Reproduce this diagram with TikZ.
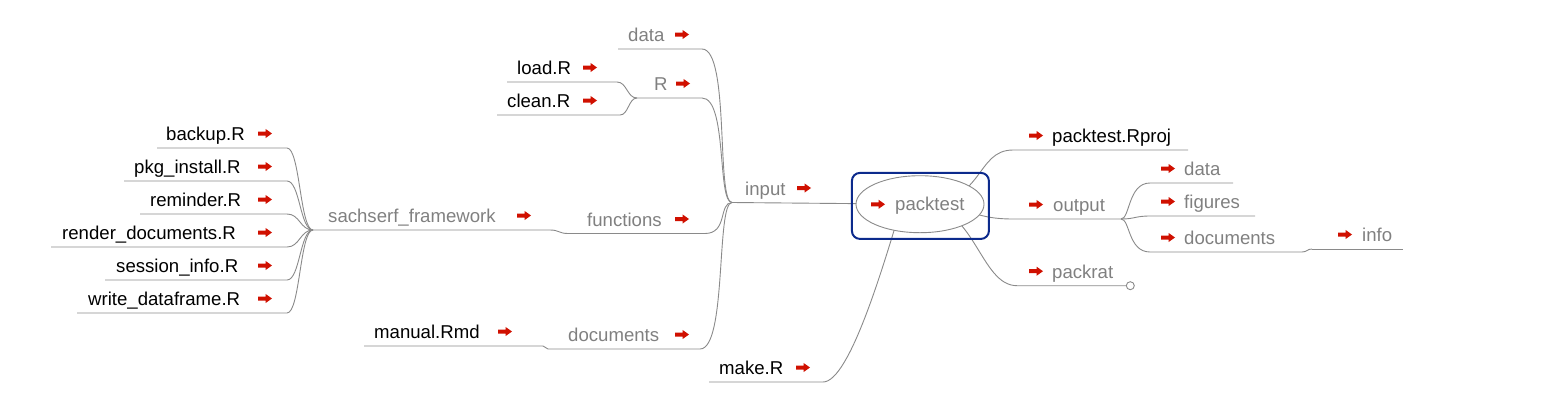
\documentclass[tikz,border=0pt]{standalone}
\usepackage{fontspec}
\setmainfont{Liberation Sans}
\usetikzlibrary{backgrounds,shapes.geometric}
\definecolor{edgegray}{HTML}{8A8A8A}
\definecolor{txtgray}{HTML}{808080}
\definecolor{arrowred}{HTML}{D01000}
\definecolor{boxblue}{HTML}{0C2A8C}
\newcommand\lbfont{\fontsize{18.6}{22}\selectfont}
\tikzset{
  lbl/.style={anchor=base west, inner sep=0pt, font=\lbfont},
  filelbl/.style={lbl, text=black},
  dirlbl/.style={lbl, text=txtgray},
  edge/.style={draw=edgegray, line width=0.9pt},
  redarrow/.pic={\fill[arrowred] (-7,-2) -- (0.5,-2) -- (0.5,-4.6) -- (7,0) -- (0.5,4.6) -- (0.5,2) -- (-7,2) -- cycle;},
}
\begin{document}
\begin{tikzpicture}[x=1pt,y=-1pt]
\useasboundingbox (0,0) rectangle (1550,413);

% ---------- root ----------
\node[draw=boxblue, line width=2pt, rounded corners=8pt, minimum width=137pt, minimum height=66pt, inner sep=0pt] (rootbox) at (920.4,205.9) {};
\node[ellipse, draw=edgegray, fill=white, line width=0.9pt, minimum width=128pt, minimum height=57pt, inner sep=0pt] (root) at (920,204.2) {};
\node[dirlbl] (troot) at (895,210.7) {packtest};
\pic at (878,204.3) {redarrow};

% ---------- left labels ----------
\node[dirlbl] (tdata) at (628,41.7) {data};            \pic at (682,34.5) {redarrow};
\node[dirlbl] (tR) at (654,90.7) {R};                  \pic at (683,83.5) {redarrow};
\node[filelbl] (tload) at (517,74.7) {load.R};         \pic at (590,67.5) {redarrow};
\node[filelbl] (tclean) at (507,107.7) {clean.R};      \pic at (590,100.5) {redarrow};
\node[dirlbl] (tinput) at (745,195.2) {input};         \pic at (804,188) {redarrow};
\node[dirlbl] (tfunc) at (587,226.2) {functions};      \pic at (682,219) {redarrow};
\node[dirlbl] (tsach) at (328,222.7) {sachserf\_framework}; \pic at (524,215.5) {redarrow};
\node[filelbl] (tbackup) at (166,140.7) {backup.R};    \pic at (265,133.5) {redarrow};
\node[filelbl] (tpkg) at (134,173.7) {pkg\_install.R}; \pic at (265,166.5) {redarrow};
\node[filelbl] (trem) at (150,206.7) {reminder.R};     \pic at (265,199.5) {redarrow};
\node[filelbl] (trender) at (62,239.7) {render\_documents.R}; \pic at (265,232.5) {redarrow};
\node[filelbl] (tsess) at (116,272.7) {session\_info.R}; \pic at (265,265.5) {redarrow};
\node[filelbl] (twrite) at (88,305.7) {write\_dataframe.R}; \pic at (265,298.5) {redarrow};
\node[filelbl] (tmanual) at (374,338.7) {manual.Rmd};  \pic at (505,331.5) {redarrow};
\node[dirlbl] (tdocs) at (568,341.7) {documents};      \pic at (682,334.5) {redarrow};
\node[filelbl] (tmake) at (719,374.7) {make.R};        \pic at (803,367.5) {redarrow};

% ---------- right labels ----------
\node[filelbl] (trproj) at (1052,142.7) {packtest.Rproj}; \pic at (1036,135.5) {redarrow};
\node[dirlbl] (toutput) at (1053,211.7) {output};      \pic at (1036,204.5) {redarrow};
\node[dirlbl] (todata) at (1184,175.7) {data};         \pic at (1168,168.5) {redarrow};
\node[dirlbl] (tofig) at (1184,208.7) {figures};       \pic at (1168,201.5) {redarrow};
\node[dirlbl] (todocs) at (1184,244.7) {documents};    \pic at (1168,237.5) {redarrow};
\node[dirlbl] (tinfo) at (1362,241.7) {info};          \pic at (1345,234.5) {redarrow};
\node[dirlbl] (tpackrat) at (1052,278.4) {packrat};    \pic at (1036,271.2) {redarrow};
\node[circle, draw=edgegray, line width=0.9pt, minimum size=8pt, inner sep=0pt] (prc) at (1130.3,285.7) {};

% ---------- underline end points ----------
\coordinate (inL) at (732,202.5);
\coordinate (dataL) at (618,49);   \coordinate (dataR) at (702,49);
\coordinate (RL) at (637,98);      \coordinate (RR) at (702,98);
\coordinate (loadL) at (507,82);   \coordinate (loadR) at (617,82);
\coordinate (cleanL) at (497,115); \coordinate (cleanR) at (620,115);
\coordinate (funcL) at (568,233.5); \coordinate (funcR) at (705,233.5);
\coordinate (sachL) at (313,230);  \coordinate (sachR) at (550,230);
\coordinate (backL) at (157,148);  \coordinate (backR) at (287,148);
\coordinate (pkgL) at (124,181);   \coordinate (pkgR) at (287,181);
\coordinate (remL) at (140,214);   \coordinate (remR) at (287,214);
\coordinate (rendL) at (51,247);   \coordinate (rendR) at (287,247);
\coordinate (sessL) at (105,280);  \coordinate (sessR) at (287,280);
\coordinate (writL) at (77,313);   \coordinate (writR) at (287,313);
\coordinate (manL) at (364,346);   \coordinate (manR) at (543,346);
\coordinate (docL) at (548,349);   \coordinate (docR) at (700,349);
\coordinate (makeL) at (709,382);  \coordinate (makeR) at (823,382);
\coordinate (rprojL) at (1013,150); \coordinate (rprojR) at (1188,150);
\coordinate (outL) at (1013,219);  \coordinate (outR) at (1121,219);
\coordinate (odataL) at (1150,183); \coordinate (odataR) at (1233,183);
\coordinate (ofigL) at (1150,216); \coordinate (ofigR) at (1255,216);
\coordinate (odocL) at (1150,252); \coordinate (odocR) at (1302,252);
\coordinate (infoL) at (1312,249); \coordinate (infoR) at (1403,249);
\coordinate (prL) at (1017,285.7);

% ---------- connectors ----------
\begin{pgfonlayer}{background}
\draw[edge] (inL) -- (root.center);
\draw[edge] (dataL) -- (dataR) .. controls (730,49) and (716,202.5) .. (inL);
\draw[edge] (RL) -- (RR) .. controls (727.5,98) and (717,202.5) .. (inL);
\draw[edge] (loadL) -- (loadR) .. controls (627,82) and (627,98) .. (RL);
\draw[edge] (cleanL) -- (cleanR) .. controls (628.5,115) and (628.5,98) .. (RL);
\draw[edge] (funcL) -- (funcR) .. controls (728,233.5) and (718.5,202.5) .. (inL);
\draw[edge] (docL) -- (docR) .. controls (727,349) and (716,202.5) .. (inL);
\draw[edge] (manL) -- (manR) .. controls (545.5,346) and (545.5,349) .. (docL);
\draw[edge] (sachL) -- (sachR) .. controls (559,230) and (559,233.5) .. (funcL);
\draw[edge] (backL) -- (backR) .. controls (300,148) and (300,230) .. (sachL);
\draw[edge] (pkgL) -- (pkgR) .. controls (300,181) and (300,230) .. (sachL);
\draw[edge] (remL) -- (remR) .. controls (300,214) and (300,230) .. (sachL);
\draw[edge] (rendL) -- (rendR) .. controls (300,247) and (300,230) .. (sachL);
\draw[edge] (sessL) -- (sessR) .. controls (300,280) and (300,230) .. (sachL);
\draw[edge] (writL) -- (writR) .. controls (300,313) and (300,230) .. (sachL);
\draw[edge] (makeL) -- (makeR) .. controls (850,382) and (885,260) .. ([xshift=-18pt]root.center);
\draw[edge] (root.center) .. controls (985,204) and (975,150) .. (rprojL) -- (rprojR);
\draw[edge] (root.center) .. controls (970,204) and (968,219) .. (outL) -- (outR);
\draw[edge] (outR) .. controls (1130,219) and (1128,183) .. (odataL) -- (odataR);
\draw[edge] (outR) .. controls (1135,219) and (1135,216) .. (ofigL) -- (ofigR);
\draw[edge] (outR) .. controls (1130,219) and (1128,252) .. (odocL) -- (odocR) .. controls (1307,252) and (1307,249) .. (infoL);
\draw[edge] (infoL) -- (infoR);
\draw[edge] (root.center) .. controls (975,204) and (980,285.7) .. (prL) -- (prc.west);
\end{pgfonlayer}
\end{tikzpicture}
\end{document}
